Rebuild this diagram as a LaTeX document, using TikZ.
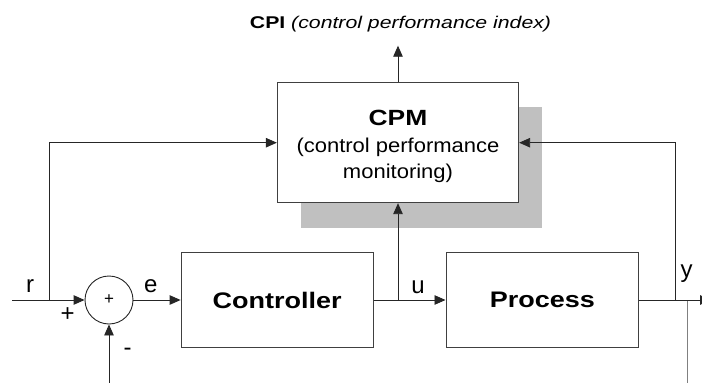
\documentclass[tikz,border=0pt]{standalone}
\usepackage{fontspec}
\setmainfont{Liberation Sans}
\newfontfamily\widefont[FakeStretch=1.2]{Liberation Sans}
\newfontfamily\cpifont[FakeStretch=1.25]{Liberation Sans}
\newfontfamily\subfont[FakeStretch=1.1]{Liberation Sans}
\usetikzlibrary{arrows.meta}
\definecolor{shadowgray}{RGB}{192,192,192}

\begin{document}
\begin{tikzpicture}[x=1pt,y=-1pt,
  line width=0.9pt,
  wire/.style={draw=black!85},
  arrowline/.style={wire,-{Triangle[length=11pt,width=9.5pt]}},
  block/.style={draw=black!75, rectangle, inner sep=0pt, fill=white},
  blocktext/.style={font=\widefont\bfseries\fontsize{22.5}{24}\selectfont},
  lbl/.style={inner sep=0pt, anchor=base, font=\fontsize{24}{26}\selectfont}]

\useasboundingbox (0,0) rectangle (702,383);
\clip (0,0) rectangle (702,383);

% shadow behind the monitoring block
\fill[shadowgray] (301,106.7) rectangle (542,227.7);

% blocks
\node[block, minimum width=241.4pt, minimum height=120pt] (cpm) at (398,142.7) {};
\node[anchor=base, inner sep=0pt, font=\widefont\bfseries\fontsize{22}{24}\selectfont] (cpmtitle) at (398,125) {CPM};
\node[anchor=base, inner sep=0pt, align=center, font=\subfont\fontsize{20}{26}\selectfont] (cpmsub) at (398,178) {(control performance\\monitoring)};

\node[block, blocktext, minimum width=192.3pt, minimum height=95.6pt] (ctrl) at (277.2,300) {Controller};
\node[block, blocktext, minimum width=192.7pt, minimum height=95.6pt] (proc) at (542.3,300) {Process};
\node[draw=black!85, circle, minimum size=48pt, inner sep=0pt, font=\fontsize{17}{18}\selectfont] (sum) at (109,300) {+};

% output label
\node[anchor=base, inner sep=0pt, font=\cpifont\fontsize{17}{20}\selectfont] (cpi) at (400.5,28.3) {\textbf{CPI} \textit{(control performance index)}};

% connection points
\coordinate (rin) at (12,300);
\coordinate (rj) at (49,300);
\coordinate (uj) at (398,300);
\coordinate (yj) at (675,300);
\coordinate (yout) at (711,300);
\coordinate (fbin) at (109,390);
\coordinate (cpiout) at (398,45.7);
\coordinate (fbtop) at (687.7,301);
\coordinate (fbbot) at (687.7,390);

% signal lines
\draw[arrowline] (rin) -- (sum.west);
\draw[arrowline] (rj) |- (cpm.west);
\draw[arrowline] (sum.east) -- (ctrl.west);
\draw[arrowline] (ctrl.east) -- (proc.west);
\draw[arrowline] (uj) -- (cpm.south);
\draw[arrowline] (proc.east) -- (yout);
\draw[arrowline] (yj) |- (cpm.east);
\draw[arrowline] (cpm.north) -- (cpiout);
\draw[arrowline] (fbin) -- (sum.south);
\draw[draw=gray, line width=1.4pt] (fbtop) -- (fbbot);

% signal labels
\node[lbl] (rlab) at (30,292.3) {r};
\node[lbl] (elab) at (150.7,292) {e};
\node[lbl] (ulab) at (418,293) {u};
\node[lbl] (ylab) at (686.7,277) {y};
\node[inner sep=0pt, font=\fontsize{24}{26}\selectfont] (plus) at (67.7,315) {+};
\node[inner sep=0pt, font=\fontsize{24}{26}\selectfont] (minus) at (127.7,351.7) {-};
\end{tikzpicture}
\end{document}
